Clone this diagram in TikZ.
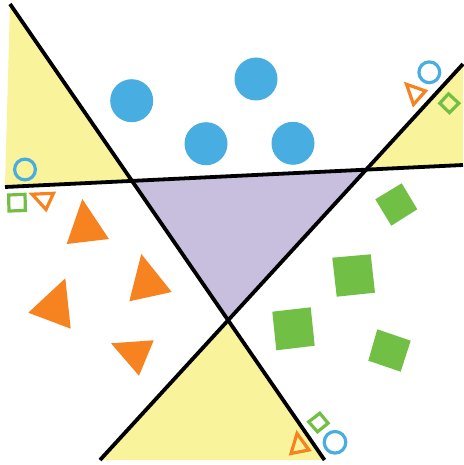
\documentclass[tikz,border=0pt]{standalone}
\usepackage{tikz}
\definecolor{paleyellow}{RGB}{249,243,155}
\definecolor{lilac}{RGB}{200,191,223}
\definecolor{skyblue}{RGB}{72,173,225}
\definecolor{tangerine}{RGB}{246,130,32}
\definecolor{leafgreen}{RGB}{114,191,69}

\begin{document}
\begin{tikzpicture}[x=1pt, y=-1pt,
    yellowpart/.style={fill=paleyellow},
    purplepart/.style={fill=lilac},
    cutline/.style={line width=3.8pt, black},
    bluedisc/.style={fill=skyblue},
    orangetri/.style={fill=tangerine},
    greensq/.style={fill=leafgreen},
    ring/.style={draw=skyblue, line width=3.2pt},
    opentri/.style={draw=tangerine, line width=3.2pt, line join=miter},
    opensq/.style={draw=leafgreen, line width=3.2pt, line join=miter}
]
\useasboundingbox (0,0) rectangle (463,465);
% ends and crossings of the three lines
\coordinate (tl) at (10,4);
\coordinate (bl) at (5,187);
\coordinate (hl) at (132,181);
\coordinate (hr) at (366,169.5);
\coordinate (mid) at (228,320);
\coordinate (tr) at (463,64);
\coordinate (er) at (463,165);
\coordinate (bll) at (100,460);
\coordinate (brr) at (324.5,460);

% regions
\fill[yellowpart] (tl) -- (bl) -- (hl) -- cycle;
\fill[yellowpart] (tr) -- (hr) -- (er) -- cycle;
\fill[yellowpart] (mid) -- (bll) -- (brr) -- cycle;
\fill[purplepart] (hl) -- (hr) -- (mid) -- cycle;

% lines
\draw[cutline] (tl) -- (brr);
\draw[cutline] (tr) -- (bll);
\draw[cutline] (bl) -- (er);

% blue discs
\foreach \cx/\cy in {131.7/100.7, 256/79, 206/143.7, 293/143.3}
    \fill[bluedisc] (\cx,\cy) circle[radius=21.5pt];

% orange triangles
\fill[orangetri] (82.3,199) -- (66.7,244) -- (109,239) -- cycle;
\fill[orangetri] (141.3,254) -- (129.3,301.3) -- (171.7,292) -- cycle;
\fill[orangetri] (65.3,278.3) -- (28.3,312.7) -- (70.7,328.7) -- cycle;
\fill[orangetri] (111,343.3) -- (153.7,340.3) -- (139,375.7) -- cycle;

% green squares
\fill[greensq] (375.3,199.3) -- (401.7,183.3) -- (417.3,209.3) -- (391.3,225.7) -- cycle;
\fill[greensq] (332.3,257.7) -- (370.7,254.3) -- (375,292.7) -- (336.7,296.7) -- cycle;
\fill[greensq] (272.3,311.7) -- (310.7,307.3) -- (314.7,345.7) -- (276.3,350.3) -- cycle;
\fill[greensq] (377.3,329.3) -- (410.7,340.7) -- (400.7,371.7) -- (368.3,360.7) -- cycle;

% small outlined shapes, top left
\draw[ring] (25,169.5) circle[radius=10.4pt];
\draw[opensq] (8.6,195) -- (25,194.3) -- (25.4,210.5) -- (9,211) -- cycle;
\draw[opentri] (32,194.2) -- (53.5,193.3) -- (46,209.5) -- cycle;

% top right
\draw[ring] (429.3,72.3) circle[radius=10.4pt];
\draw[opentri] (406.5,84.3) -- (425.5,91) -- (413.5,104.5) -- cycle;
\draw[opensq] (439.8,103.3) -- (448.5,93.8) -- (458.8,103.3) -- (449.5,112.7) -- cycle;

% bottom
\draw[opensq] (308.7,421.8) -- (319.8,413.2) -- (328.1,423.2) -- (317.5,431.8) -- cycle;
\draw[ring] (335,442.3) circle[radius=10.8pt];
\draw[opentri] (297,433.5) -- (309,450) -- (291,453.5) -- cycle;
\end{tikzpicture}
\end{document}
